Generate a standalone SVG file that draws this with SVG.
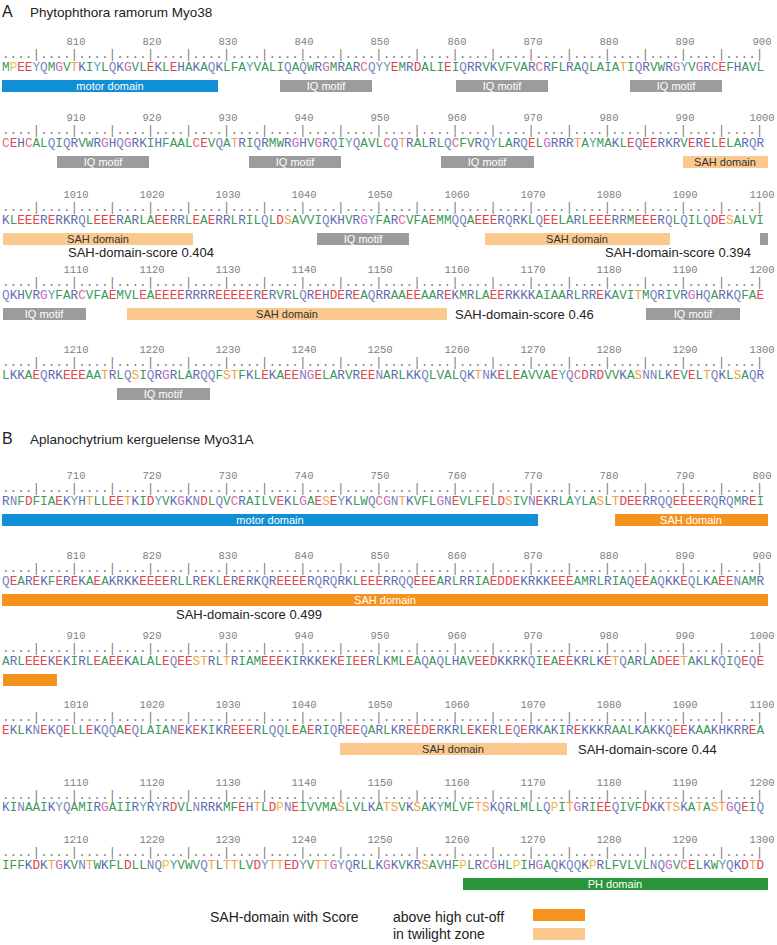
<svg xmlns="http://www.w3.org/2000/svg" width="777" height="945" viewBox="0 0 777 945">
<style>
.seq{font-family:"Liberation Mono",monospace;font-size:12.7px;fill:#3c9a5a}
.dots{font-family:"Liberation Mono",monospace;font-size:12.7px;fill:#808080}
.num{font-family:"Liberation Mono",monospace;font-size:10.5px;fill:#808080;text-anchor:middle}
.r{fill:#e0474c}.b{fill:#5c6bb0}.n{fill:#7a84bf}.y{fill:#61a0b0}.o{fill:#f0a24a}.p{fill:#e8c23a}.m{fill:#c46cb6}.c{fill:#e06a86}
.title{font-family:"Liberation Sans",Arial,sans-serif;font-size:13.5px;fill:#222}
.big{font-family:"Liberation Sans",Arial,sans-serif;font-size:16px;fill:#222}
.lbl{font-family:"Liberation Sans",Arial,sans-serif;font-size:11px;text-anchor:middle}
.score{font-family:"Liberation Sans",Arial,sans-serif;font-size:13px;fill:#222}
.motor{fill:#0f8fd4}.iq{fill:#9c9c9c}.sahl{fill:#fbc88e}.sahs{fill:#f6931e}.ph{fill:#2a963b}
.w{fill:#fff}.d{fill:#333}
</style>
<defs>
<text id="ruler" class="dots">....|....|....|....|....|....|....|....|....|....|....|....|....|....|....|....|....|....|....|....|</text>
</defs>

<g id="panelA">
<text class="big" x="2" y="17">A</text>
<text class="title" x="30" y="17">Phytophthora ramorum Myo38</text>

<g id="A-line1">
<g class="num" transform="translate(0,45)"><text x="76" y="0">810</text><text x="152" y="0">820</text><text x="228" y="0">830</text><text x="304" y="0">840</text><text x="380" y="0">850</text><text x="457" y="0">860</text><text x="533" y="0">870</text><text x="609" y="0">880</text><text x="685" y="0">890</text><text x="762" y="0">900</text></g>
<use href="#ruler" x="2" y="58"/>
<text class="seq" x="2" y="71">M<tspan class="p">P</tspan><tspan class="r">EE</tspan><tspan class="y">Y</tspan><tspan class="n">Q</tspan>M<tspan class="m">G</tspan>V<tspan class="o">T</tspan><tspan class="b">K</tspan>I<tspan class="y">Y</tspan>L<tspan class="n">Q</tspan><tspan class="b">K</tspan><tspan class="m">G</tspan>VL<tspan class="r">E</tspan><tspan class="b">K</tspan>L<tspan class="r">E</tspan><tspan class="b">H</tspan>A<tspan class="b">K</tspan>A<tspan class="n">Q</tspan><tspan class="b">K</tspan>LFA<tspan class="y">Y</tspan>VALI<tspan class="n">Q</tspan>A<tspan class="n">Q</tspan>W<tspan class="b">R</tspan><tspan class="m">G</tspan>M<tspan class="b">R</tspan>A<tspan class="b">R</tspan><tspan class="c">C</tspan><tspan class="n">Q</tspan><tspan class="y">YY</tspan><tspan class="r">E</tspan>M<tspan class="b">R</tspan><tspan class="r">D</tspan>ALI<tspan class="r">E</tspan>I<tspan class="n">Q</tspan><tspan class="b">RR</tspan>V<tspan class="b">K</tspan>VFVA<tspan class="b">R</tspan><tspan class="c">C</tspan><tspan class="b">R</tspan>FL<tspan class="b">R</tspan>A<tspan class="n">Q</tspan>LAIA<tspan class="o">T</tspan>I<tspan class="n">Q</tspan><tspan class="b">R</tspan>VW<tspan class="b">R</tspan><tspan class="m">G</tspan><tspan class="y">Y</tspan>V<tspan class="m">G</tspan><tspan class="b">R</tspan><tspan class="c">C</tspan><tspan class="r">E</tspan>F<tspan class="b">H</tspan>AVL</text>
<rect class="motor" x="2" y="80" width="216" height="12"/><text class="lbl w" x="110" y="90">motor domain</text>
<rect class="iq" x="280" y="80" width="92" height="12"/><text class="lbl w" x="326" y="90">IQ motif</text>
<rect class="iq" x="456" y="80" width="92" height="12"/><text class="lbl w" x="502" y="90">IQ motif</text>
<rect class="iq" x="630" y="80" width="92" height="12"/><text class="lbl w" x="676" y="90">IQ motif</text>
</g>

<g id="A-line2">
<g class="num" transform="translate(0,121)"><text x="76" y="0">910</text><text x="152" y="0">920</text><text x="228" y="0">930</text><text x="304" y="0">940</text><text x="380" y="0">950</text><text x="457" y="0">960</text><text x="533" y="0">970</text><text x="609" y="0">980</text><text x="685" y="0">990</text><text x="762" y="0">1000</text></g>
<use href="#ruler" x="2" y="134"/>
<text class="seq" x="2" y="147"><tspan class="c">C</tspan><tspan class="r">E</tspan><tspan class="b">H</tspan><tspan class="c">C</tspan>AL<tspan class="n">Q</tspan>I<tspan class="n">Q</tspan><tspan class="b">R</tspan>VW<tspan class="b">R</tspan><tspan class="m">G</tspan><tspan class="b">H</tspan><tspan class="n">Q</tspan><tspan class="m">G</tspan><tspan class="b">RK</tspan>I<tspan class="b">H</tspan>FAAL<tspan class="c">C</tspan><tspan class="r">E</tspan>V<tspan class="n">Q</tspan>A<tspan class="o">T</tspan><tspan class="b">R</tspan>I<tspan class="n">Q</tspan><tspan class="b">R</tspan>MW<tspan class="b">R</tspan><tspan class="m">G</tspan><tspan class="b">H</tspan>V<tspan class="m">G</tspan><tspan class="b">R</tspan><tspan class="n">Q</tspan>I<tspan class="y">Y</tspan><tspan class="n">Q</tspan>AVL<tspan class="c">C</tspan><tspan class="n">Q</tspan><tspan class="o">T</tspan><tspan class="b">R</tspan>AL<tspan class="b">R</tspan>L<tspan class="n">Q</tspan><tspan class="c">C</tspan>FV<tspan class="b">R</tspan><tspan class="n">Q</tspan><tspan class="y">Y</tspan>LA<tspan class="b">R</tspan><tspan class="n">Q</tspan><tspan class="r">E</tspan>L<tspan class="m">G</tspan><tspan class="b">RRR</tspan><tspan class="o">T</tspan>A<tspan class="y">Y</tspan>MA<tspan class="b">K</tspan>L<tspan class="r">E</tspan><tspan class="n">Q</tspan><tspan class="r">EE</tspan><tspan class="b">RKR</tspan>V<tspan class="r">E</tspan><tspan class="b">R</tspan><tspan class="r">E</tspan>L<tspan class="r">E</tspan>LA<tspan class="b">R</tspan><tspan class="n">Q</tspan><tspan class="b">R</tspan></text>
<rect class="iq" x="57" y="156" width="92" height="12"/><text class="lbl w" x="103" y="166">IQ motif</text>
<rect class="iq" x="249" y="156" width="92" height="12"/><text class="lbl w" x="295" y="166">IQ motif</text>
<rect class="iq" x="441" y="156" width="93" height="12"/><text class="lbl w" x="487" y="166">IQ motif</text>
<rect class="sahl" x="683" y="156" width="85" height="12"/><text class="lbl d" x="725" y="166">SAH domain</text>
</g>

<g id="A-line3">
<g class="num" transform="translate(0,198)"><text x="76" y="0">1010</text><text x="152" y="0">1020</text><text x="228" y="0">1030</text><text x="304" y="0">1040</text><text x="380" y="0">1050</text><text x="457" y="0">1060</text><text x="533" y="0">1070</text><text x="609" y="0">1080</text><text x="685" y="0">1090</text><text x="762" y="0">1100</text></g>
<use href="#ruler" x="2" y="211"/>
<text class="seq" x="2" y="224"><tspan class="b">K</tspan>L<tspan class="r">EEE</tspan><tspan class="b">R</tspan><tspan class="r">E</tspan><tspan class="b">RKR</tspan><tspan class="n">Q</tspan>L<tspan class="r">EEE</tspan><tspan class="b">R</tspan>A<tspan class="b">R</tspan>LA<tspan class="r">EE</tspan><tspan class="b">RR</tspan>L<tspan class="r">E</tspan>A<tspan class="r">E</tspan><tspan class="b">RR</tspan>L<tspan class="b">R</tspan>IL<tspan class="n">Q</tspan>L<tspan class="r">D</tspan><tspan class="o">S</tspan>AVVI<tspan class="n">Q</tspan><tspan class="b">KH</tspan>V<tspan class="b">R</tspan><tspan class="m">G</tspan><tspan class="y">Y</tspan>FA<tspan class="b">R</tspan><tspan class="c">C</tspan>VFA<tspan class="r">E</tspan>MM<tspan class="n">QQ</tspan>A<tspan class="r">EEE</tspan><tspan class="b">R</tspan><tspan class="n">Q</tspan><tspan class="b">RK</tspan>L<tspan class="n">Q</tspan><tspan class="r">EE</tspan>LA<tspan class="b">R</tspan>L<tspan class="r">EEE</tspan><tspan class="b">RR</tspan>M<tspan class="r">EEE</tspan><tspan class="b">R</tspan><tspan class="n">Q</tspan>L<tspan class="n">Q</tspan>IL<tspan class="n">Q</tspan><tspan class="r">DE</tspan><tspan class="o">S</tspan>ALVI</text>
<rect class="sahl" x="3" y="233" width="190" height="12"/><text class="lbl d" x="98" y="243">SAH domain</text>
<rect class="iq" x="317" y="233" width="92" height="12"/><text class="lbl w" x="363" y="243">IQ motif</text>
<rect class="sahl" x="485" y="233" width="185" height="12"/><text class="lbl d" x="577" y="243">SAH domain</text>
<rect class="iq" x="760" y="233" width="8" height="12"/>
<text class="score" x="68" y="257">SAH-domain-score 0.404</text>
<text class="score" x="605" y="257">SAH-domain-score 0.394</text>
</g>

<g id="A-line4">
<g class="num" transform="translate(0,273)"><text x="76" y="0">1110</text><text x="152" y="0">1120</text><text x="228" y="0">1130</text><text x="304" y="0">1140</text><text x="380" y="0">1150</text><text x="457" y="0">1160</text><text x="533" y="0">1170</text><text x="609" y="0">1180</text><text x="685" y="0">1190</text><text x="762" y="0">1200</text></g>
<use href="#ruler" x="2" y="286"/>
<text class="seq" x="2" y="299"><tspan class="n">Q</tspan><tspan class="b">KH</tspan>V<tspan class="b">R</tspan><tspan class="m">G</tspan><tspan class="y">Y</tspan>FA<tspan class="b">R</tspan><tspan class="c">C</tspan>VFA<tspan class="r">E</tspan>MVL<tspan class="r">E</tspan>A<tspan class="r">EEEE</tspan><tspan class="b">RRRR</tspan><tspan class="r">EEEEE</tspan><tspan class="b">R</tspan><tspan class="r">E</tspan><tspan class="b">R</tspan>V<tspan class="b">R</tspan>L<tspan class="n">Q</tspan><tspan class="b">R</tspan><tspan class="r">E</tspan><tspan class="b">H</tspan><tspan class="r">DE</tspan><tspan class="b">R</tspan><tspan class="r">E</tspan>A<tspan class="n">Q</tspan><tspan class="b">RR</tspan>AA<tspan class="r">EE</tspan>AA<tspan class="b">R</tspan><tspan class="r">E</tspan><tspan class="b">K</tspan>M<tspan class="b">R</tspan>LA<tspan class="r">EE</tspan><tspan class="b">RKKK</tspan>AIAA<tspan class="b">R</tspan>L<tspan class="b">RR</tspan><tspan class="r">E</tspan><tspan class="b">K</tspan>AVI<tspan class="o">T</tspan>M<tspan class="n">Q</tspan><tspan class="b">R</tspan>IV<tspan class="b">R</tspan><tspan class="m">G</tspan><tspan class="b">H</tspan><tspan class="n">Q</tspan>A<tspan class="b">RK</tspan><tspan class="n">Q</tspan>FA<tspan class="r">E</tspan></text>
<rect class="iq" x="3" y="308" width="83" height="12"/><text class="lbl w" x="44" y="318">IQ motif</text>
<rect class="sahl" x="127" y="308" width="320" height="12"/><text class="lbl d" x="287" y="318">SAH domain</text>
<text class="score" x="455" y="319">SAH-domain-score 0.46</text>
<rect class="iq" x="646" y="308" width="94" height="12"/><text class="lbl w" x="693" y="318">IQ motif</text>
</g>

<g id="A-line5">
<g class="num" transform="translate(0,353)"><text x="76" y="0">1210</text><text x="152" y="0">1220</text><text x="228" y="0">1230</text><text x="304" y="0">1240</text><text x="380" y="0">1250</text><text x="457" y="0">1260</text><text x="533" y="0">1270</text><text x="609" y="0">1280</text><text x="685" y="0">1290</text><text x="762" y="0">1300</text></g>
<use href="#ruler" x="2" y="366"/>
<text class="seq" x="2" y="379">L<tspan class="b">KK</tspan>A<tspan class="r">E</tspan><tspan class="n">Q</tspan><tspan class="b">RK</tspan><tspan class="r">EEE</tspan>AA<tspan class="o">T</tspan><tspan class="b">R</tspan>L<tspan class="n">Q</tspan><tspan class="o">S</tspan>I<tspan class="n">Q</tspan><tspan class="b">R</tspan><tspan class="m">G</tspan><tspan class="b">R</tspan>LA<tspan class="b">R</tspan><tspan class="n">QQ</tspan>F<tspan class="o">ST</tspan>F<tspan class="b">K</tspan>L<tspan class="r">E</tspan><tspan class="b">K</tspan>A<tspan class="r">EE</tspan><tspan class="n">N</tspan><tspan class="m">G</tspan><tspan class="r">E</tspan>LA<tspan class="b">R</tspan>V<tspan class="b">R</tspan><tspan class="r">EE</tspan><tspan class="n">N</tspan>A<tspan class="b">R</tspan>L<tspan class="b">KK</tspan><tspan class="n">Q</tspan>LVAL<tspan class="n">Q</tspan><tspan class="b">K</tspan><tspan class="o">T</tspan><tspan class="n">N</tspan><tspan class="b">K</tspan><tspan class="r">E</tspan>L<tspan class="r">E</tspan>AVVA<tspan class="r">E</tspan><tspan class="y">Y</tspan><tspan class="n">Q</tspan><tspan class="c">C</tspan><tspan class="r">D</tspan><tspan class="b">R</tspan><tspan class="r">D</tspan>VV<tspan class="b">K</tspan>A<tspan class="o">S</tspan><tspan class="n">NN</tspan>L<tspan class="b">K</tspan><tspan class="r">E</tspan>V<tspan class="r">E</tspan>L<tspan class="o">T</tspan><tspan class="n">Q</tspan><tspan class="b">K</tspan>L<tspan class="o">S</tspan>A<tspan class="n">Q</tspan><tspan class="b">R</tspan></text>
<rect class="iq" x="117" y="388" width="93" height="12"/><text class="lbl w" x="163" y="398">IQ motif</text>
</g>
</g>

<g id="panelB">
<text class="big" x="2" y="444">B</text>
<text class="title" x="30" y="444">Aplanochytrium kerguelense Myo31A</text>

<g id="B-line1">
<g class="num" transform="translate(0,479)"><text x="76" y="0">710</text><text x="152" y="0">720</text><text x="228" y="0">730</text><text x="304" y="0">740</text><text x="380" y="0">750</text><text x="457" y="0">760</text><text x="533" y="0">770</text><text x="609" y="0">780</text><text x="685" y="0">790</text><text x="762" y="0">800</text></g>
<use href="#ruler" x="2" y="492"/>
<text class="seq" x="2" y="505"><tspan class="b">R</tspan><tspan class="n">N</tspan>F<tspan class="r">D</tspan>FIA<tspan class="r">E</tspan><tspan class="b">K</tspan><tspan class="y">Y</tspan><tspan class="b">H</tspan><tspan class="o">T</tspan>LL<tspan class="r">EE</tspan><tspan class="o">T</tspan><tspan class="b">K</tspan>I<tspan class="r">D</tspan><tspan class="y">Y</tspan>V<tspan class="b">K</tspan><tspan class="m">G</tspan><tspan class="b">K</tspan><tspan class="n">N</tspan><tspan class="r">D</tspan>L<tspan class="n">Q</tspan>V<tspan class="c">C</tspan><tspan class="b">R</tspan>AILV<tspan class="r">E</tspan><tspan class="b">K</tspan>L<tspan class="m">G</tspan>A<tspan class="r">E</tspan><tspan class="o">S</tspan><tspan class="r">E</tspan><tspan class="y">Y</tspan><tspan class="b">K</tspan>LW<tspan class="n">Q</tspan><tspan class="c">C</tspan><tspan class="m">G</tspan><tspan class="n">N</tspan><tspan class="o">T</tspan><tspan class="b">K</tspan>VFL<tspan class="m">G</tspan><tspan class="n">N</tspan><tspan class="r">E</tspan>VLF<tspan class="r">E</tspan>L<tspan class="r">D</tspan><tspan class="o">S</tspan>IV<tspan class="n">N</tspan><tspan class="r">E</tspan><tspan class="b">KR</tspan>LA<tspan class="y">Y</tspan>LA<tspan class="o">S</tspan>L<tspan class="o">T</tspan><tspan class="r">DEE</tspan><tspan class="b">RR</tspan><tspan class="n">QQ</tspan><tspan class="r">EEEE</tspan><tspan class="b">R</tspan><tspan class="n">Q</tspan><tspan class="b">R</tspan><tspan class="n">Q</tspan>M<tspan class="b">R</tspan><tspan class="r">E</tspan>I</text>
<rect class="motor" x="2" y="514" width="536" height="12"/><text class="lbl w" x="270" y="524">motor domain</text>
<rect class="sahs" x="615" y="514" width="153" height="12"/><text class="lbl w" x="691" y="524">SAH domain</text>
</g>

<g id="B-line2">
<g class="num" transform="translate(0,559)"><text x="76" y="0">810</text><text x="152" y="0">820</text><text x="228" y="0">830</text><text x="304" y="0">840</text><text x="380" y="0">850</text><text x="457" y="0">860</text><text x="533" y="0">870</text><text x="609" y="0">880</text><text x="685" y="0">890</text><text x="762" y="0">900</text></g>
<use href="#ruler" x="2" y="572"/>
<text class="seq" x="2" y="585"><tspan class="n">Q</tspan><tspan class="r">E</tspan>A<tspan class="b">R</tspan><tspan class="r">E</tspan><tspan class="b">K</tspan>F<tspan class="r">E</tspan><tspan class="b">R</tspan><tspan class="r">E</tspan><tspan class="b">K</tspan>A<tspan class="r">E</tspan>A<tspan class="b">KRKK</tspan><tspan class="r">EEEE</tspan><tspan class="b">R</tspan>LL<tspan class="b">R</tspan><tspan class="r">E</tspan><tspan class="b">K</tspan>L<tspan class="r">E</tspan><tspan class="b">R</tspan><tspan class="r">E</tspan><tspan class="b">RK</tspan><tspan class="n">Q</tspan><tspan class="b">R</tspan><tspan class="r">EEEE</tspan><tspan class="b">R</tspan><tspan class="n">Q</tspan><tspan class="b">R</tspan><tspan class="n">Q</tspan><tspan class="b">RK</tspan>L<tspan class="r">EEE</tspan><tspan class="b">RR</tspan><tspan class="n">QQ</tspan><tspan class="r">EEE</tspan>A<tspan class="b">R</tspan>L<tspan class="b">RR</tspan>IA<tspan class="r">EDDE</tspan><tspan class="b">KRKK</tspan><tspan class="r">EEE</tspan>AM<tspan class="b">R</tspan>L<tspan class="b">R</tspan>IA<tspan class="n">Q</tspan><tspan class="r">EE</tspan>A<tspan class="n">Q</tspan><tspan class="b">KK</tspan><tspan class="r">E</tspan><tspan class="n">Q</tspan>L<tspan class="b">K</tspan>A<tspan class="r">EE</tspan><tspan class="n">N</tspan>AM<tspan class="b">R</tspan></text>
<rect class="sahs" x="2" y="594" width="766" height="12"/><text class="lbl w" x="385" y="604">SAH domain</text>
<text class="score" x="176" y="619">SAH-domain-score 0.499</text>
</g>

<g id="B-line3">
<g class="num" transform="translate(0,639)"><text x="76" y="0">910</text><text x="152" y="0">920</text><text x="228" y="0">930</text><text x="304" y="0">940</text><text x="380" y="0">950</text><text x="457" y="0">960</text><text x="533" y="0">970</text><text x="609" y="0">980</text><text x="685" y="0">990</text><text x="762" y="0">1000</text></g>
<use href="#ruler" x="2" y="652"/>
<text class="seq" x="2" y="665">A<tspan class="b">R</tspan>L<tspan class="r">EEE</tspan><tspan class="b">K</tspan><tspan class="r">E</tspan><tspan class="b">K</tspan>I<tspan class="b">R</tspan>L<tspan class="r">E</tspan>A<tspan class="r">EE</tspan><tspan class="b">K</tspan>ALAL<tspan class="r">E</tspan><tspan class="n">Q</tspan><tspan class="r">EE</tspan><tspan class="o">ST</tspan><tspan class="b">R</tspan>L<tspan class="o">T</tspan><tspan class="b">R</tspan>IAM<tspan class="r">EEE</tspan><tspan class="b">K</tspan>I<tspan class="b">RKK</tspan><tspan class="r">E</tspan><tspan class="b">K</tspan><tspan class="r">E</tspan>I<tspan class="r">EE</tspan><tspan class="b">R</tspan>L<tspan class="b">K</tspan>ML<tspan class="r">E</tspan>A<tspan class="n">Q</tspan>A<tspan class="n">Q</tspan>L<tspan class="b">H</tspan>AV<tspan class="r">EED</tspan><tspan class="b">KKRK</tspan><tspan class="n">Q</tspan>I<tspan class="r">E</tspan>A<tspan class="r">EE</tspan><tspan class="b">KR</tspan>L<tspan class="b">K</tspan><tspan class="r">E</tspan><tspan class="o">T</tspan><tspan class="n">Q</tspan>A<tspan class="b">R</tspan>LA<tspan class="r">DEE</tspan><tspan class="o">T</tspan>A<tspan class="b">K</tspan>L<tspan class="b">K</tspan><tspan class="n">Q</tspan>I<tspan class="n">Q</tspan><tspan class="r">E</tspan><tspan class="n">Q</tspan><tspan class="r">E</tspan></text>
<rect class="sahs" x="3" y="674" width="54" height="12"/>
</g>

<g id="B-line4">
<g class="num" transform="translate(0,708)"><text x="76" y="0">1010</text><text x="152" y="0">1020</text><text x="228" y="0">1030</text><text x="304" y="0">1040</text><text x="380" y="0">1050</text><text x="457" y="0">1060</text><text x="533" y="0">1070</text><text x="609" y="0">1080</text><text x="685" y="0">1090</text><text x="762" y="0">1100</text></g>
<use href="#ruler" x="2" y="721"/>
<text class="seq" x="2" y="734"><tspan class="r">E</tspan><tspan class="b">K</tspan>L<tspan class="b">K</tspan><tspan class="n">N</tspan><tspan class="r">E</tspan><tspan class="b">K</tspan><tspan class="n">Q</tspan><tspan class="r">E</tspan>LL<tspan class="r">E</tspan><tspan class="b">K</tspan><tspan class="n">QQ</tspan>A<tspan class="r">E</tspan><tspan class="n">Q</tspan>LAIA<tspan class="n">N</tspan><tspan class="r">E</tspan><tspan class="b">K</tspan><tspan class="r">E</tspan><tspan class="b">K</tspan>I<tspan class="b">KR</tspan><tspan class="r">EEE</tspan><tspan class="b">R</tspan>L<tspan class="n">QQ</tspan>L<tspan class="r">E</tspan>A<tspan class="r">E</tspan><tspan class="b">R</tspan>I<tspan class="n">Q</tspan><tspan class="b">R</tspan><tspan class="r">EE</tspan><tspan class="n">Q</tspan>A<tspan class="b">R</tspan>L<tspan class="b">KR</tspan><tspan class="r">EEDE</tspan><tspan class="b">RKR</tspan>L<tspan class="r">E</tspan><tspan class="b">K</tspan><tspan class="r">E</tspan><tspan class="b">R</tspan>L<tspan class="r">E</tspan><tspan class="n">Q</tspan><tspan class="r">E</tspan><tspan class="b">RK</tspan>A<tspan class="b">K</tspan>I<tspan class="b">R</tspan><tspan class="r">E</tspan><tspan class="b">KKKR</tspan>AAL<tspan class="b">K</tspan>A<tspan class="b">KK</tspan><tspan class="n">Q</tspan><tspan class="r">EE</tspan><tspan class="b">K</tspan>AA<tspan class="b">KHKRR</tspan><tspan class="r">E</tspan>A</text>
<rect class="sahl" x="340" y="743" width="227" height="12"/><text class="lbl d" x="453" y="753">SAH domain</text>
<text class="score" x="578" y="754">SAH-domain-score 0.44</text>
</g>

<g id="B-line5">
<g class="num" transform="translate(0,786)"><text x="76" y="0">1110</text><text x="152" y="0">1120</text><text x="228" y="0">1130</text><text x="304" y="0">1140</text><text x="380" y="0">1150</text><text x="457" y="0">1160</text><text x="533" y="0">1170</text><text x="609" y="0">1180</text><text x="685" y="0">1190</text><text x="762" y="0">1200</text></g>
<use href="#ruler" x="2" y="799"/>
<text class="seq" x="2" y="811"><tspan class="b">K</tspan>I<tspan class="n">N</tspan>AAI<tspan class="b">K</tspan><tspan class="y">Y</tspan><tspan class="n">Q</tspan>AMI<tspan class="b">R</tspan><tspan class="m">G</tspan>AII<tspan class="b">R</tspan><tspan class="y">Y</tspan><tspan class="b">R</tspan><tspan class="y">Y</tspan><tspan class="b">R</tspan><tspan class="r">D</tspan>VL<tspan class="n">N</tspan><tspan class="b">RRK</tspan>MF<tspan class="r">E</tspan><tspan class="b">H</tspan><tspan class="o">T</tspan>L<tspan class="r">D</tspan><tspan class="p">P</tspan><tspan class="n">N</tspan><tspan class="r">E</tspan>IVVMA<tspan class="o">S</tspan>LVL<tspan class="b">K</tspan>A<tspan class="o">TS</tspan>V<tspan class="b">K</tspan><tspan class="o">S</tspan>A<tspan class="b">K</tspan><tspan class="y">Y</tspan>MLVF<tspan class="o">TS</tspan><tspan class="b">K</tspan><tspan class="n">Q</tspan><tspan class="b">R</tspan>LMLL<tspan class="n">Q</tspan><tspan class="p">P</tspan>I<tspan class="o">T</tspan><tspan class="m">G</tspan><tspan class="b">R</tspan>I<tspan class="r">EE</tspan><tspan class="n">Q</tspan>IVF<tspan class="r">D</tspan><tspan class="b">KK</tspan><tspan class="o">TS</tspan><tspan class="b">K</tspan>A<tspan class="o">T</tspan>A<tspan class="o">ST</tspan><tspan class="m">G</tspan><tspan class="n">Q</tspan><tspan class="r">E</tspan>I<tspan class="n">Q</tspan></text>
</g>

<g id="B-line6">
<g class="num" transform="translate(0,843)"><text x="76" y="0">1210</text><text x="152" y="0">1220</text><text x="228" y="0">1230</text><text x="304" y="0">1240</text><text x="380" y="0">1250</text><text x="457" y="0">1260</text><text x="533" y="0">1270</text><text x="609" y="0">1280</text><text x="685" y="0">1290</text><text x="762" y="0">1300</text></g>
<use href="#ruler" x="2" y="856"/>
<text class="seq" x="2" y="869">IFF<tspan class="b">K</tspan><tspan class="r">D</tspan><tspan class="b">K</tspan><tspan class="o">T</tspan><tspan class="m">G</tspan><tspan class="b">K</tspan>V<tspan class="n">N</tspan><tspan class="o">T</tspan>W<tspan class="b">K</tspan>FL<tspan class="r">D</tspan>LL<tspan class="n">NQ</tspan><tspan class="p">P</tspan><tspan class="y">Y</tspan>VWV<tspan class="n">Q</tspan><tspan class="o">T</tspan>L<tspan class="o">TT</tspan>LV<tspan class="r">D</tspan><tspan class="y">Y</tspan><tspan class="o">TT</tspan><tspan class="r">ED</tspan><tspan class="y">Y</tspan>V<tspan class="o">TT</tspan><tspan class="m">G</tspan><tspan class="y">Y</tspan><tspan class="n">Q</tspan><tspan class="b">R</tspan>LL<tspan class="b">K</tspan><tspan class="m">G</tspan><tspan class="b">K</tspan>V<tspan class="b">KR</tspan><tspan class="o">S</tspan>AV<tspan class="b">H</tspan>F<tspan class="p">P</tspan>L<tspan class="b">R</tspan><tspan class="c">C</tspan><tspan class="m">G</tspan><tspan class="b">H</tspan>L<tspan class="p">P</tspan>I<tspan class="b">H</tspan><tspan class="m">G</tspan>A<tspan class="n">Q</tspan><tspan class="b">K</tspan><tspan class="n">QQ</tspan><tspan class="b">K</tspan><tspan class="p">P</tspan><tspan class="b">R</tspan>LFVLVL<tspan class="n">NQ</tspan><tspan class="m">G</tspan>V<tspan class="c">C</tspan><tspan class="r">E</tspan>L<tspan class="b">K</tspan>W<tspan class="y">Y</tspan><tspan class="n">Q</tspan><tspan class="b">K</tspan><tspan class="r">D</tspan><tspan class="o">T</tspan><tspan class="r">D</tspan></text>
<rect class="ph" x="463" y="878" width="305" height="12"/><text class="lbl w" x="615" y="888">PH domain</text>
</g>
</g>

<g id="legend">
<text class="score" x="210" y="922" style="font-size:14px">SAH-domain with Score</text>
<text class="score" x="393" y="922" style="font-size:14px">above high cut-off</text>
<text class="score" x="393" y="939" style="font-size:14px">in twilight zone</text>
<rect class="sahs" x="533" y="909" width="52" height="12"/>
<rect class="sahl" x="533" y="928" width="52" height="12"/>
</g>
</svg>
